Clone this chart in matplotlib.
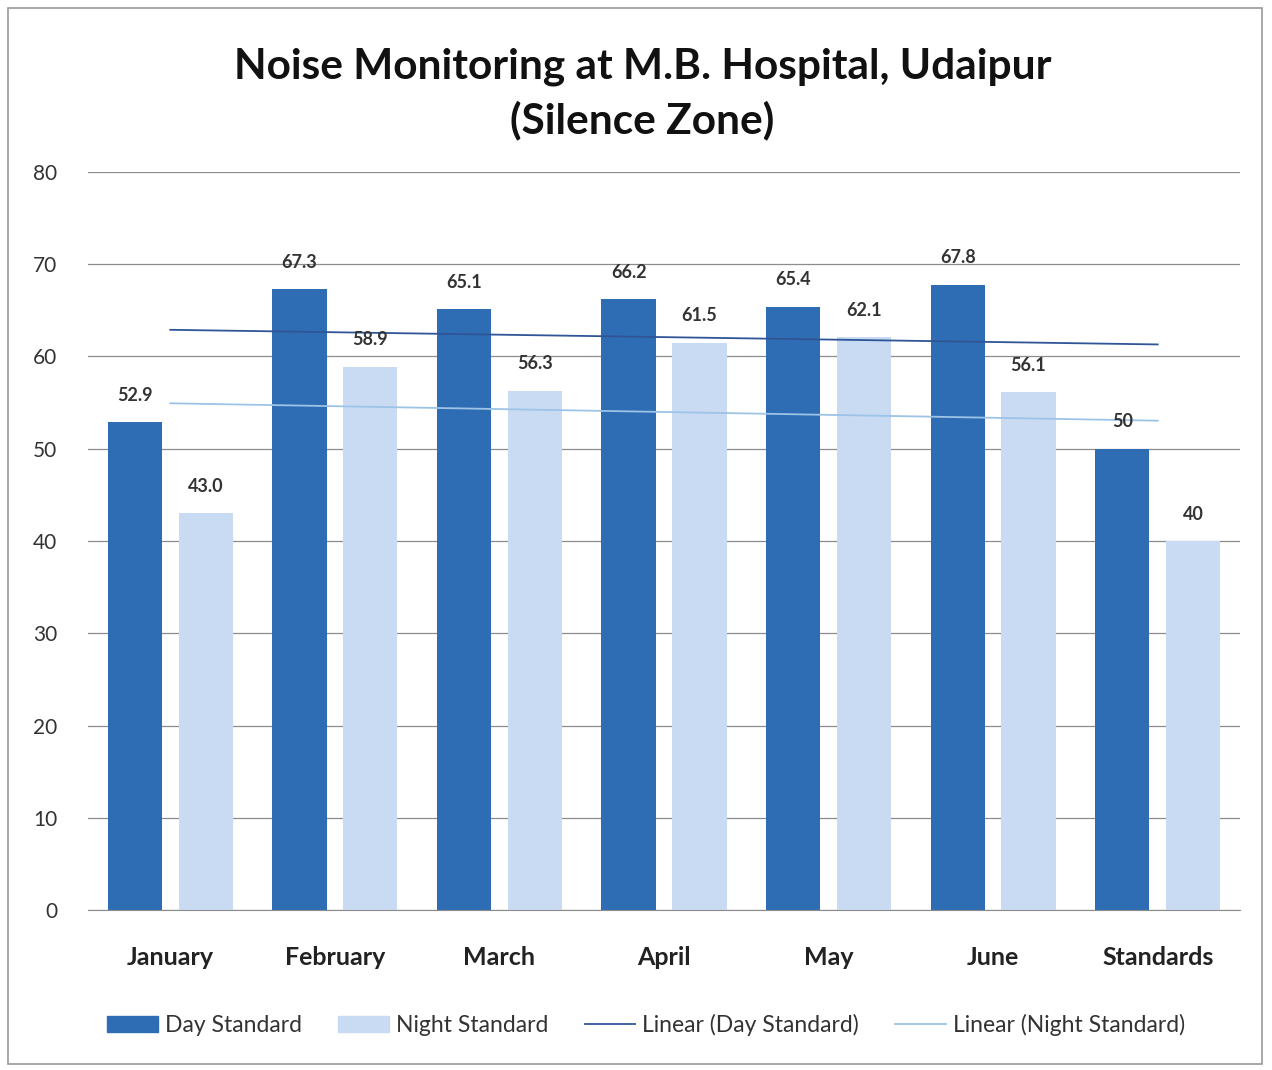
import numpy as np
import matplotlib
matplotlib.use("Agg")
from matplotlib import pyplot as plt
from matplotlib.patches import Rectangle
from matplotlib.lines import Line2D

plt.rcParams["font.family"] = ["Lato", "DejaVu Sans"]

categories = ["January", "February", "March", "April", "May", "June", "Standards"]
day_values = [52.9, 67.3, 65.1, 66.2, 65.4, 67.8, 50]
night_values = [43.0, 58.9, 56.3, 61.5, 62.1, 56.1, 40]
day_labels = ["52.9", "67.3", "65.1", "66.2", "65.4", "67.8", "50"]
night_labels = ["43.0", "58.9", "56.3", "61.5", "62.1", "56.1", "40"]

day_color = "#2E6DB4"
night_color = "#C9DBF3"
day_trend_color = "#2F5597"
night_trend_color = "#9DC3E6"

fig = plt.figure(figsize=(12.72, 10.70), dpi=100)
ax = fig.add_axes([88 / 1272, 1 - 910 / 1070, 1152 / 1272, 738 / 1070])

x = np.arange(len(categories))
w = 0.33
off = 0.215
ax.bar(x - off, day_values, w, color=day_color, zorder=2)
ax.bar(x + off, night_values, w, color=night_color, zorder=2)

# linear trendlines (least squares on the series, as Excel does)
xt = x + 1
pd_ = np.polyfit(xt, day_values, 1)
pn_ = np.polyfit(xt, night_values, 1)
ax.plot(x, np.polyval(pd_, xt), color=day_trend_color, lw=1.3, zorder=3)
ax.plot(x, np.polyval(pn_, xt), color=night_trend_color, lw=1.3, zorder=3)

for xi, v, s in zip(x, day_values, day_labels):
    ax.text(xi - off, v + 2.0, s, ha="center", va="bottom", fontsize=13,
            fontweight="bold", color="#333333", zorder=4)
for xi, v, s in zip(x, night_values, night_labels):
    ax.text(xi + off, v + 2.0, s, ha="center", va="bottom", fontsize=13,
            fontweight="bold", color="#333333", zorder=4)

ax.set_xlim(-0.5, len(categories) - 0.5)
ax.set_ylim(0, 80)
ax.set_yticks(range(0, 81, 10))
ax.grid(axis="y", color="#8C8C8C", lw=0.9, zorder=0)
for s in ["top", "right", "left"]:
    ax.spines[s].set_visible(False)
ax.spines["bottom"].set_color("#8C8C8C")
ax.tick_params(axis="y", length=0, labelsize=15, colors="#333333", pad=22)
ax.tick_params(axis="x", length=0, pad=0)
ax.set_xticks(x)
ax.set_xticklabels([])
for xi, c in zip(x, categories):
    ax.text(xi, -5.2, c, ha="center", va="center", fontsize=18,
            fontweight="bold", color="#222222")

fig.text(0.505, 1 - 94 / 1070, "Noise Monitoring at M.B. Hospital, Udaipur\n(Silence Zone)",
         ha="center", va="center", fontsize=30.5, fontweight="bold",
         color="#111111", linespacing=1.45)

handles = [
    Rectangle((0, 0), 1, 1, color=day_color),
    Rectangle((0, 0), 1, 1, color=night_color),
    Line2D([], [], color=day_trend_color, lw=1.3),
    Line2D([], [], color=night_trend_color, lw=1.3),
]
names = ["Day Standard", "Night Standard", "Linear (Day Standard)", "Linear (Night Standard)"]
fig.legend(handles, names, loc="center", bbox_to_anchor=(0.508, 1 - 1025 / 1070),
           ncol=4, frameon=False, fontsize=16.5, handlelength=2.2, handleheight=0.7,
           columnspacing=1.6, handletextpad=0.3, labelcolor="#333333")

fig.patches.append(Rectangle((8 / 1272, 6 / 1070), 1254 / 1272, 1056 / 1070,
                             transform=fig.transFigure, fill=False,
                             edgecolor="#9A9A9A", lw=1.2))

fig.savefig("out.png", dpi=100)
